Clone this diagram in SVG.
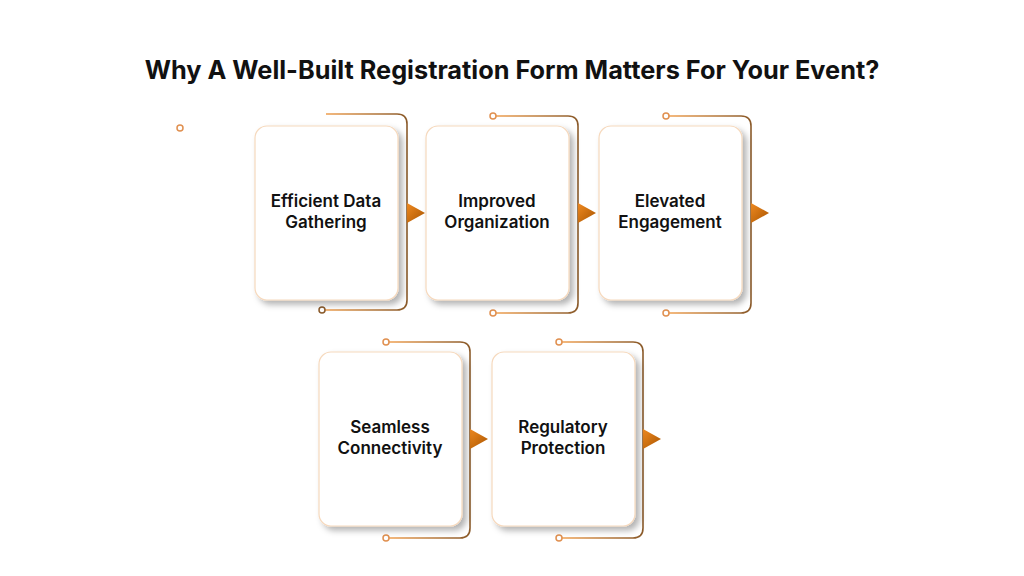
<svg xmlns="http://www.w3.org/2000/svg" width="1024" height="576" viewBox="0 0 1024 576">
<defs>
<linearGradient id="lg" x1="0" y1="0" x2="1" y2="0"><stop offset="0" stop-color="#f0a050"/><stop offset="1" stop-color="#8a5a2a"/></linearGradient>
<linearGradient id="tg" x1="0" y1="0" x2="1" y2="1"><stop offset="0" stop-color="#f08a20"/><stop offset="1" stop-color="#a85400"/></linearGradient>
<filter id="sh" x="-20%" y="-20%" width="150%" height="150%"><feDropShadow dx="4" dy="4" stdDeviation="3" flood-color="#000" flood-opacity="0.3"/></filter>
</defs>
<style>
.card{fill:#fff;stroke:#f6d9bd;stroke-width:1.2;filter:url(#sh)}
.ln{fill:none;stroke:url(#lg);stroke-width:1.6}
.dot{fill:#fff;stroke:#e09050;stroke-width:1.5}
.dotb{fill:#fff;stroke:#8a5a2a;stroke-width:1.5}
.tri{fill:url(#tg)}
.t{font-family:Inter,'Liberation Sans',sans-serif;font-weight:600;font-size:17px;fill:#111;text-anchor:middle}
</style>
<rect width="1024" height="576" fill="#fff"/>
<text x="512" y="79" font-family="Inter,'Liberation Sans',sans-serif" font-weight="700" font-size="25.3" fill="#111" text-anchor="middle">Why A Well-Built Registration Form Matters For Your Event?</text>
<circle class="dot" cx="180" cy="128" r="3"/>
<g id="connectors">
<path class="ln" d="M326 114 H397 Q407 114 407 124 V300 Q407 310 397 310 H325"/>
<circle class="dotb" cx="322" cy="310" r="3"/>
<path class="ln" d="M496 116 H568 Q578 116 578 126 V303 Q578 313 568 313 H496"/>
<circle class="dot" cx="493" cy="116" r="3"/><circle class="dot" cx="493" cy="313" r="3"/>
<path class="ln" d="M669 116 H741 Q751 116 751 126 V303 Q751 313 741 313 H669"/>
<circle class="dot" cx="666" cy="116" r="3"/><circle class="dot" cx="666" cy="313" r="3"/>
<path class="ln" d="M389 342 H460 Q470 342 470 352 V528 Q470 538 460 538 H389"/>
<circle class="dot" cx="386" cy="342" r="3"/><circle class="dot" cx="386" cy="538" r="3"/>
<path class="ln" d="M562 342 H633 Q643 342 643 352 V528 Q643 538 633 538 H562"/>
<circle class="dot" cx="559" cy="342" r="3"/><circle class="dot" cx="559" cy="538" r="3"/>
<polygon class="tri" points="407,203 425,213 407,223"/>
<polygon class="tri" points="578,203 596,213 578,223"/>
<polygon class="tri" points="751,203 769,213 751,223"/>
<polygon class="tri" points="470,429 488,439 470,449"/>
<polygon class="tri" points="643,429 661,439 643,449"/>
</g>
<g id="n1"><rect class="card" x="255" y="126" width="143" height="174" rx="12"/><text class="t" x="326" y="207">Efficient Data</text><text class="t" x="326" y="228">Gathering</text></g>
<g id="n2"><rect class="card" x="426" y="126" width="143" height="174" rx="12"/><text class="t" x="497" y="207">Improved</text><text class="t" x="497" y="228">Organization</text></g>
<g id="n3"><rect class="card" x="599" y="126" width="143" height="174" rx="12"/><text class="t" x="670" y="207">Elevated</text><text class="t" x="670" y="228">Engagement</text></g>
<g id="n4"><rect class="card" x="319" y="352" width="143" height="174" rx="12"/><text class="t" x="390" y="433">Seamless</text><text class="t" x="390" y="454">Connectivity</text></g>
<g id="n5"><rect class="card" x="492" y="352" width="143" height="174" rx="12"/><text class="t" x="563" y="433">Regulatory</text><text class="t" x="563" y="454">Protection</text></g>
</svg>
